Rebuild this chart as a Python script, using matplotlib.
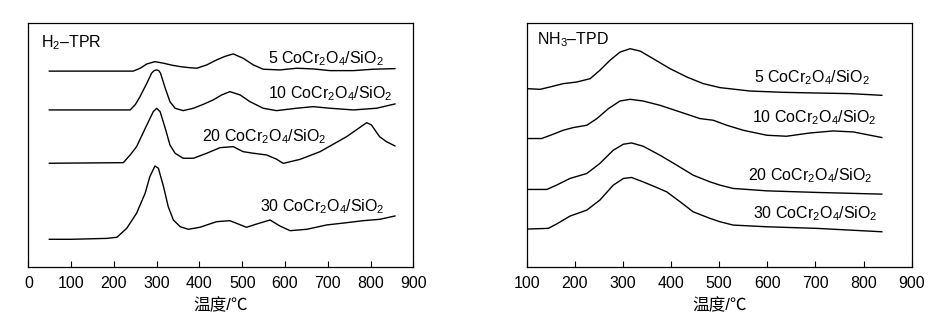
import matplotlib
matplotlib.use("Agg")
import matplotlib.pyplot as plt
import numpy as np

plt.rcParams['font.family'] = ['Liberation Sans', 'Noto Sans CJK SC']
plt.rcParams['mathtext.fontset'] = 'custom'
plt.rcParams['mathtext.rm'] = 'Liberation Sans'
plt.rcParams['mathtext.it'] = 'Liberation Sans'

# H2-TPR traces (stacked, a.u.)
tpr_t5 = [49, 245, 262, 277, 296, 316, 335, 355, 375, 394, 417, 440, 460, 479, 502, 526, 549, 588, 627, 666, 705, 760, 806, 857]
tpr_s5 = [195.5, 195.5, 198.5, 202.7, 205, 203.4, 201.5, 200, 199, 198.4, 201.7, 206.7, 210.3, 212.7, 208.4, 201.7, 197.4, 196.7, 198.4, 197.7, 196, 196, 197.4, 198]

tpr_t10 = [49, 238, 250, 261, 277, 288, 294, 300, 305, 309, 320, 331, 343, 362, 386, 410, 432, 452, 471, 495, 518, 549, 580, 627, 666, 705, 760, 814, 857]
tpr_s10 = [156.7, 156.7, 162, 170, 183.4, 193.4, 196, 196.7, 196, 193.4, 178.4, 165, 158.4, 156, 158.4, 162.5, 166.7, 171.7, 175, 171.7, 165, 158.4, 156, 158.4, 160, 158.4, 156.7, 158.4, 162.7]

tpr_t20 = [49, 222, 238, 253, 277, 292, 300, 308, 320, 331, 343, 362, 386, 417, 448, 479, 502, 526, 557, 580, 596, 635, 682, 744, 791, 802, 821, 837, 857]
tpr_s20 = [103.4, 104, 111.7, 120, 141.7, 155, 158.3, 155, 138.4, 121.7, 113.4, 108.4, 108.4, 113.4, 119, 120, 115, 113.4, 111.7, 107.5, 103.3, 107.3, 115, 130, 144, 141.7, 130, 125, 120.7]

tpr_t30 = [49, 101, 183, 207, 230, 253, 273, 284, 296, 304, 316, 327, 339, 355, 374, 401, 440, 471, 510, 534, 565, 588, 612, 651, 697, 744, 783, 822, 857]
tpr_s30 = [27.4, 27.4, 28.3, 29.4, 38.4, 53.4, 73.4, 90, 100.7, 98.4, 80, 60, 46.7, 40, 37.4, 39.4, 45, 46, 39.4, 42.7, 46.7, 40.7, 36, 37.4, 41.7, 44, 46, 47.4, 50.7]

# NH3-TPD traces (stacked, a.u.)
tpd_t5 = [100, 128, 148, 176, 204, 232, 252, 273, 294, 315, 336, 363, 398, 433, 467, 502, 564, 633, 703, 772, 838]
tpd_s5 = [178.4, 177.7, 180, 183.4, 185, 188.4, 196.7, 206.7, 215, 218.4, 216, 208.4, 198.4, 190, 183.4, 179.4, 176, 174.7, 174, 173.4, 171.7]

tpd_t10 = [100, 131, 155, 176, 197, 225, 246, 270, 294, 315, 342, 377, 419, 460, 488, 516, 550, 599, 640, 689, 737, 779, 838]
tpd_s10 = [128.4, 128.4, 132.7, 136.7, 139.4, 141.7, 148.4, 158.4, 166, 167.7, 166, 161.7, 155, 148.4, 146.7, 141.7, 136.7, 131.7, 130.7, 134, 136, 135, 129.4]

tpd_t20 = [100, 142, 162, 190, 225, 252, 280, 301, 318, 342, 377, 412, 446, 481, 502, 529, 599, 703, 838]
tpd_s20 = [77.4, 77.4, 81.7, 88.4, 93.4, 103.4, 116.7, 122.7, 124, 120.7, 111.7, 101.7, 91.7, 85, 81.7, 78.4, 76, 74.4, 72.7]

tpd_t30 = [100, 145, 162, 190, 225, 252, 280, 301, 318, 342, 370, 391, 419, 446, 481, 502, 529, 599, 703, 838]
tpd_s30 = [37.7, 38.4, 42.7, 50.7, 56.7, 66.7, 81.7, 88.4, 89.4, 85, 79.4, 75, 65, 55, 48.4, 45, 41.7, 40, 38.4, 35]

loadings = ['5', '10', '20', '30']
sample = ' CoCr$_\\mathregular{2}$O$_\\mathregular{4}$/SiO$_\\mathregular{2}$'

fig = plt.figure(figsize=(9.45, 3.26), dpi=100)
ax1 = fig.add_axes([0.0300, 0.1819, 0.4074, 0.7466])
ax2 = fig.add_axes([0.5573, 0.1819, 0.4074, 0.7480])

tpr = [(tpr_t5, tpr_s5), (tpr_t10, tpr_s10), (tpr_t20, tpr_s20), (tpr_t30, tpr_s30)]
tpd = [(tpd_t5, tpd_s5), (tpd_t10, tpd_s10), (tpd_t20, tpd_s20), (tpd_t30, tpd_s30)]

for t, s in tpr:
    ax1.plot(t, s, color='black', lw=1.0, solid_joinstyle='round')
for t, s in tpd:
    ax2.plot(t, s, color='black', lw=1.0, solid_joinstyle='round')

# curve labels
tpr_lab = [(696, 208), (705, 173), (552, 130), (688, 60)]
tpd_lab = [(692, 189), (698, 149), (689, 91), (700, 53)]
for n, (x, y) in zip(loadings, tpr_lab):
    ax1.text(x, y, n + sample, ha='center', va='center', fontsize=11.5)
for n, (x, y) in zip(loadings, tpd_lab):
    ax2.text(x, y, n + sample, ha='center', va='center', fontsize=11.5)

ax1.text(0.033, 0.92, 'H$_\\mathregular{2}$–TPR', transform=ax1.transAxes,
         ha='left', va='center', fontsize=11.5)
ax2.text(0.028, 0.93, 'NH$_\\mathregular{3}$–TPD', transform=ax2.transAxes,
         ha='left', va='center', fontsize=11.5)

ax1.set_xlim(0, 900)
ax1.set_ylim(0, 243.3)
ax2.set_xlim(100, 900)
ax2.set_ylim(0, 244.3)
ax1.set_xticks(np.arange(0, 901, 100))
ax2.set_xticks(np.arange(100, 901, 100))

for ax in (ax1, ax2):
    ax.set_yticks([])
    ax.tick_params(axis='x', direction='in', length=4.5, width=0.8, pad=6.5, labelsize=11.5)
    for sp in ax.spines.values():
        sp.set_linewidth(0.9)
    ax.set_xlabel('温度/℃', fontsize=12, labelpad=5)

fig.savefig('out.png', dpi=100)
